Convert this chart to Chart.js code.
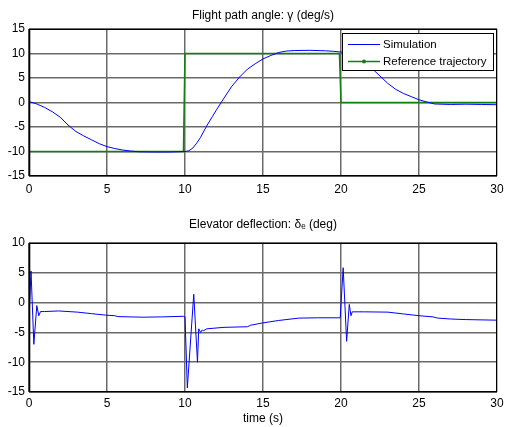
<!DOCTYPE html>
<html><head><meta charset="utf-8">
<script src="https://cdn.jsdelivr.net/npm/chart.js@4.4.1/dist/chart.umd.min.js"></script>
<style>html,body{margin:0;padding:0;background:#fff;} canvas{display:block;}</style>
</head><body>
<canvas id="c1" width="505" height="200"></canvas>
<canvas id="c2" width="505" height="227"></canvas>
<script>
// ---------- data ----------
const timeTicks  = [0, 5, 10, 15, 20, 25, 30];
const gammaTicks = [-15, -10, -5, 0, 5, 10, 15];
const deltaTicks = [-15, -10, -5, 0, 5, 10];

const titles = ['Flight path angle: \u03b3 (deg/s)', 'Elevator deflection: \u03b4\u2091 (deg)'];
const xLabel = 'time (s)';
const seriesNames = ['Simulation', 'Reference trajectory'];

const simTime  = [0, 0.5, 1, 1.5, 2, 2.5, 3, 3.5, 4, 4.5, 5, 5.5, 6, 6.5, 7, 8, 9, 10, 10.25, 10.5, 10.75, 11, 11.25, 11.5, 11.75, 12, 12.5, 13, 13.5, 14, 14.5, 15, 15.5, 16, 16.5, 17, 18, 19, 19.5, 20, 20.5, 21, 21.5, 22, 22.5, 23, 23.5, 24, 24.5, 25, 25.5, 26, 27, 28, 29, 30];
const simGamma = [0.2, -0.3, -1.0, -1.9, -3.0, -4.6, -5.9, -6.8, -7.6, -8.4, -9.0, -9.4, -9.7, -9.9, -10.05, -10.1, -10.1, -10.0, -9.85, -9.3, -8.3, -7.1, -5.6, -4.2, -2.9, -1.6, 0.9, 3.3, 5.2, 6.8, 7.9, 8.9, 9.6, 10.2, 10.5, 10.6, 10.65, 10.55, 10.45, 10.3, 10.0, 9.4, 8.3, 6.9, 5.4, 3.9, 2.7, 1.85, 1.2, 0.55, 0.1, -0.3, -0.4, -0.35, -0.4, -0.45];

const refTime  = [0, 9.9, 10, 19.9, 20, 30];
const refGamma = [-10, -10, 10, 10, 0, 0];

const elevTime  = [0, 0.13, 0.31, 0.5, 0.63, 0.74, 1.0, 1.9, 3.1, 4.0, 4.9, 5.5, 5.7, 7.3, 8.5, 9.9, 10.0, 10.15, 10.56, 10.8, 10.88, 11.0, 11.1, 11.2, 11.4, 12.5, 14.0, 14.2, 15.0, 16.0, 17.3, 18.5, 19.95, 20.14, 20.36, 20.53, 20.64, 20.72, 21.5, 23.0, 24.0, 25.0, 25.9, 26.2, 27.0, 28.0, 30.0];
const elevDelta = [-2.7, 5.3, -7.0, -0.5, -2.2, -1.5, -1.5, -1.4, -1.6, -1.85, -2.1, -2.2, -2.35, -2.45, -2.4, -2.3, -2.4, -14.3, 1.4, -10.0, -4.4, -5.0, -4.6, -4.7, -4.4, -4.15, -4.05, -3.8, -3.4, -3.0, -2.6, -2.55, -2.55, 5.85, -6.5, -0.3, -2.2, -1.55, -1.55, -1.6, -1.9, -2.2, -2.4, -2.6, -2.75, -2.85, -2.95];

// ---------- helpers ----------
const FONT = '"Liberation Sans", Arial, "DejaVu Sans", sans-serif';
Chart.defaults.font.family = FONT;
Chart.defaults.color = '#000';

const pairs = (xs, ys) => xs.map((x, i) => ({x, y: ys[i]}));
const fixedTicks = arr => scale => { scale.ticks = arr.map(v => ({value: v})); };

const framePlugin = {
  id: 'frame',
  afterDatasetsDraw(chart) {
    const {ctx, chartArea: a} = chart;
    ctx.save();
    ctx.strokeStyle = '#000';
    ctx.lineWidth = 1;
    ctx.beginPath();
    ctx.moveTo(a.left, a.top + 0.5); ctx.lineTo(a.right, a.top + 0.5);
    ctx.moveTo(a.right - 0.5, a.top); ctx.lineTo(a.right - 0.5, a.bottom);
    ctx.stroke();
    ctx.lineWidth = 1.6;
    ctx.beginPath();
    ctx.moveTo(a.left + 0.5, a.top); ctx.lineTo(a.left + 0.5, a.bottom);
    ctx.moveTo(a.left, a.bottom - 0.3); ctx.lineTo(a.right, a.bottom - 0.3);
    ctx.stroke();
    ctx.restore();
  }
};

const boxLegend = {
  id: 'boxLegend',
  afterDraw(chart, args, opts) {
    if (!opts.show) return;
    const {ctx, chartArea: a} = chart;
    const ds = chart.data.datasets;
    ctx.save();
    ctx.font = '11.5px ' + FONT;
    const tw = Math.max(...ds.map(d => ctx.measureText(d.label).width));
    const rowH = 17, pad = 6, lineLen = 32, gap = 3;
    const w = Math.round(pad + lineLen + gap + tw + pad);
    const h = rowH * ds.length + 3;
    const right = a.right - 4, top = a.top + 4;
    const left = right - w;
    ctx.fillStyle = '#fff';
    ctx.fillRect(left, top, w, h);
    ctx.strokeStyle = '#000';
    ctx.lineWidth = 1;
    ctx.strokeRect(left + 0.5, top + 0.5, w, h);
    ds.forEach((d, i) => {
      const y = top + 11.5 + i * rowH;
      ctx.strokeStyle = d.borderColor;
      ctx.lineWidth = d.borderWidth;
      ctx.beginPath();
      ctx.moveTo(left + pad, y); ctx.lineTo(left + pad + lineLen, y);
      ctx.stroke();
      if (d.legendDot) {
        ctx.fillStyle = d.borderColor;
        ctx.beginPath();
        ctx.arc(left + pad + lineLen / 2, y, 2, 0, Math.PI * 2);
        ctx.fill();
      }
      ctx.fillStyle = '#000';
      ctx.textBaseline = 'middle';
      ctx.textAlign = 'left';
      ctx.fillText(d.label, left + pad + lineLen + gap, y);
    });
    ctx.restore();
  }
};

function makeChart(id, datasets, yTicks, opt) {
  return new Chart(document.getElementById(id), {
    type: 'line',
    data: {datasets},
    plugins: [framePlugin, boxLegend],
    options: {
      responsive: false,
      animation: false,
      parsing: false,
      normalized: true,
      layout: {padding: {left: 0, right: 8, top: 0, bottom: 0}},
      elements: {point: {radius: 0}, line: {tension: 0}},
      plugins: {
        legend: {display: false},
        tooltip: {enabled: false},
        boxLegend: {show: opt.legend}
      },
      scales: {
        x: {
          type: 'linear', position: 'bottom',
          min: timeTicks[0], max: timeTicks[timeTicks.length - 1],
          afterBuildTicks: fixedTicks(timeTicks),
          ticks: {font: {size: 12}, padding: opt.xPad, color: '#000', maxRotation: 0},
          grid: {color: '#6a6a6a', lineWidth: 1.5, drawTicks: false},
          border: {display: false},
          title: {display: !!opt.xTitle, text: opt.xTitle, font: {size: 12}, padding: {top: 0, bottom: 1.5}},
          afterFit: s => { s.height = opt.bottomH; s.paddingLeft = 0; s.paddingRight = 0; }
        },
        xTop: {
          type: 'linear', position: 'top',
          min: timeTicks[0], max: timeTicks[timeTicks.length - 1],
          ticks: {display: false},
          grid: {display: false, drawTicks: false},
          border: {display: false},
          title: {display: true, text: opt.title, font: {size: 12}, padding: {top: opt.titlePad, bottom: 0}},
          afterFit: s => { s.height = opt.topH; s.paddingLeft = 0; s.paddingRight = 0; }
        },
        y: {
          type: 'linear', position: 'left',
          min: yTicks[0], max: yTicks[yTicks.length - 1],
          afterBuildTicks: fixedTicks(yTicks),
          ticks: {font: {size: 12}, padding: 4, color: '#000'},
          grid: {color: '#6a6a6a', lineWidth: 1.5, drawTicks: false},
          border: {display: false},
          afterFit: s => { s.width = 29; s.paddingTop = 0; s.paddingBottom = 0; }
        }
      }
    }
  });
}

makeChart('c1', [
  {label: seriesNames[0], data: pairs(simTime, simGamma), borderColor: '#0000ff', borderWidth: 1},
  {label: seriesNames[1], data: pairs(refTime, refGamma), borderColor: '#108010', borderWidth: 1.5, legendDot: true}
], gammaTicks, {title: titles[0], titlePad: 8, topH: 29, bottomH: 24, xPad: 6, legend: true});

makeChart('c2', [
  {label: seriesNames[0], data: pairs(elevTime, elevDelta), borderColor: '#0000ff', borderWidth: 1}
], deltaTicks, {title: titles[1], titlePad: 17.5, topH: 43, bottomH: 35, xPad: 4, xTitle: xLabel, legend: false});
</script>
</body></html>
